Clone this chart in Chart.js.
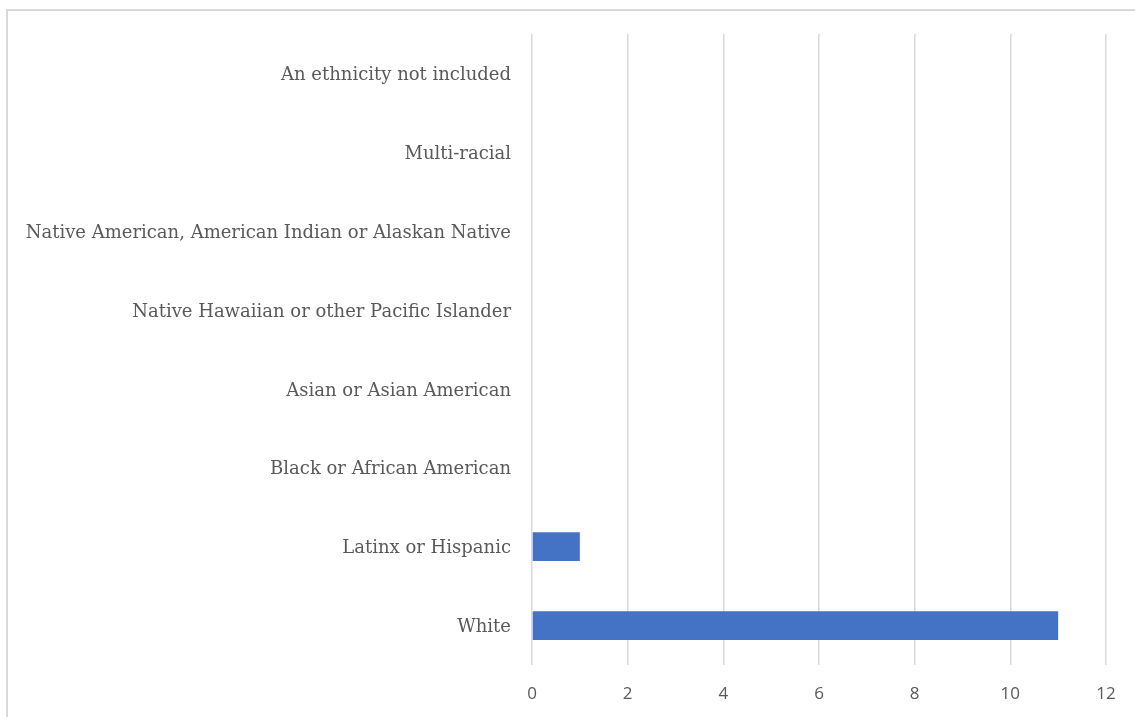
<!DOCTYPE html>
<html>
<head>
<meta charset="utf-8">
<script src="https://cdn.jsdelivr.net/npm/chart.js@4"></script>
<style>
  html, body { margin: 0; padding: 0; background: #fff; overflow: hidden; }
  #frame {
    position: absolute; left: 6px; top: 9px;
    width: 1150px; height: 730px;
    border: 2px solid #d9d9d9;
  }
  #wrap { position: absolute; left: 0; top: 0; width: 1135px; height: 717px; }
</style>
</head>
<body>
<div id="frame"></div>
<div id="wrap"><canvas id="chart"></canvas></div>
<script>
// catégories, du haut vers le bas
const categories = [
  'An ethnicity not included',
  'Multi-racial',
  'Native American, American Indian or Alaskan Native',
  'Native Hawaiian or other Pacific Islander',
  'Asian or Asian American',
  'Black or African American',
  'Latinx or Hispanic',
  'White'
];
const counts = [0, 0, 0, 0, 0, 0, 1, 11];
const xTicks = [0, 2, 4, 6, 8, 10, 12];

const ctx = document.getElementById('chart').getContext('2d');
const chart = new Chart(ctx, {
  type: 'bar',
  data: {
    labels: categories,
    datasets: [{
      data: counts,
      backgroundColor: '#4472c4',
      borderWidth: 0,
      categoryPercentage: 0.55,
      barPercentage: 0.66
    }]
  },
  options: {
    indexAxis: 'y',
    responsive: true,
    maintainAspectRatio: false,
    animation: false,
    layout: { padding: { top: 34, right: 29, left: 0, bottom: 0 } },
    plugins: {
      legend: { display: false },
      tooltip: { enabled: false }
    },
    scales: {
      x: {
        min: 0,
        max: 12,
        afterBuildTicks: function(axis) {
          axis.ticks = xTicks.map(v => ({ value: v }));
        },
        afterFit: function(axis) { axis.height = 52; },
        grid: { color: '#d9d9d9', lineWidth: 1.5, drawTicks: false },
        border: { display: false },
        ticks: {
          color: '#595959',
          padding: 19,
          font: { family: 'Open Sans', size: 17 }
        }
      },
      y: {
        afterFit: function(axis) { axis.width = 532; },
        grid: { display: false, drawTicks: false },
        border: { display: false },
        ticks: {
          color: '#595959',
          padding: 21,
          labelOffset: 2,
          font: { family: 'DejaVu Serif', size: 18 }
        }
      }
    }
  }
});
</script>
</body>
</html>
